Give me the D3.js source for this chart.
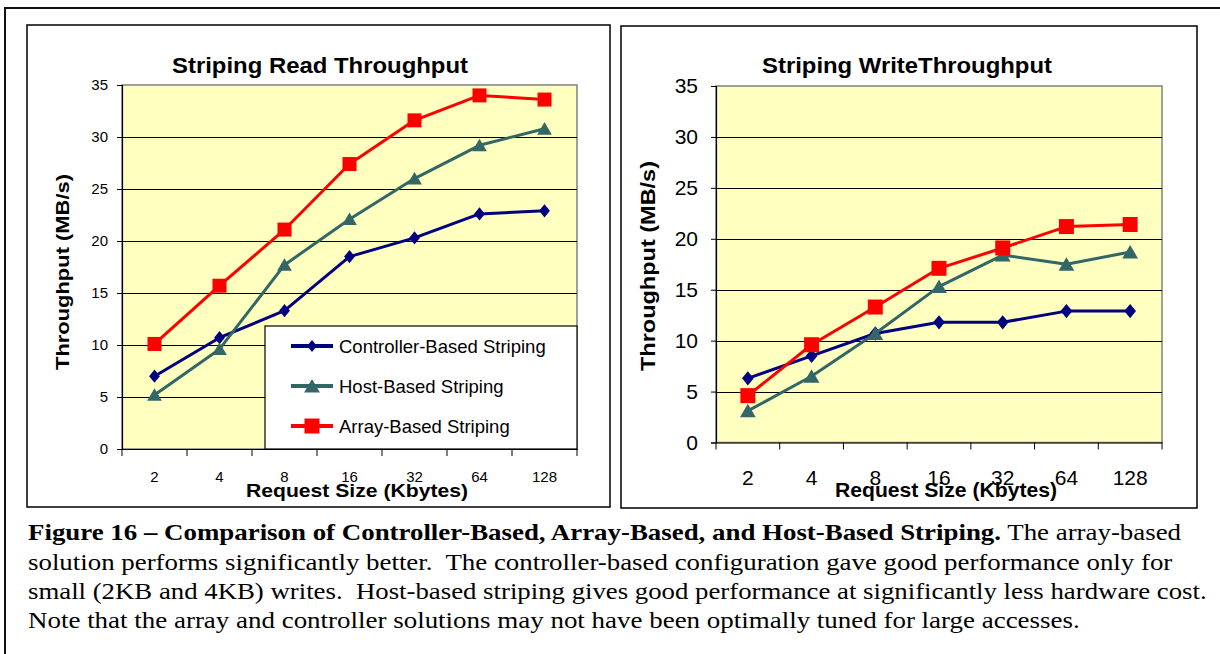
<!DOCTYPE html>
<html>
<head>
<meta charset="utf-8">
<script src="https://cdn.jsdelivr.net/npm/d3@7"></script>
<style>
  html, body { margin: 0; padding: 0; background: #fff; }
  svg { display: block; }
  .caption text { font-family: "Liberation Serif", "Times New Roman", Tinos, "Nimbus Roman", "Nimbus Roman No9 L", FreeSerif, serif; }
</style>
</head>
<body>
<svg id="fig" width="1220" height="654"></svg>
<script>
// Request sizes (Kbytes) shared by both charts
const sizes = ["2", "4", "8", "16", "32", "64", "128"];

// Read throughput (MB/s)
const readController = [7.0, 10.7, 13.3, 18.5, 20.3, 22.6, 22.9];
const readHost       = [5.2, 9.6, 17.7, 22.1, 26.0, 29.2, 30.8];
const readArray      = [10.1, 15.7, 21.1, 27.4, 31.6, 34.0, 33.6];

// Write throughput (MB/s)
const writeController = [6.3, 8.5, 10.7, 11.8, 11.8, 12.9, 12.9];
const writeHost       = [3.1, 6.5, 10.7, 15.3, 18.4, 17.5, 18.7];
const writeArray      = [4.6, 9.6, 13.3, 17.1, 19.1, 21.2, 21.4];

const yTicks = [0, 5, 10, 15, 20, 25, 30, 35];
const seriesNames = ["Controller-Based Striping", "Host-Based Striping", "Array-Based Striping"];

const captionBold = "Figure 16 \u2013 Comparison of Controller-Based, Array-Based, and Host-Based Striping.";
const captionLines = [
  " The array-based",
  "solution performs significantly better.  The controller-based configuration gave good performance only for",
  "small (2KB and 4KB) writes.  Host-based striping gives good performance at significantly less hardware cost.",
  "Note that the array and controller solutions may not have been optimally tuned for large accesses."
];

const svg = d3.select("#fig");
const SANS = "'Liberation Sans', Arial, sans-serif";

// Marker shapes, centred on their bounding box
function markerPath(shape, s) {
  const h = s / 2;
  const p = d3.path();
  if (shape === "diamond") {
    p.moveTo(0, -h * 1.1); p.lineTo(h * 0.9, 0); p.lineTo(0, h * 1.1); p.lineTo(-h * 0.9, 0); p.closePath();
  } else if (shape === "triangle") {
    p.moveTo(0, -h * 0.95); p.lineTo(h * 1.05, h * 0.85); p.lineTo(-h * 1.05, h * 0.85); p.closePath();
  } else {
    p.rect(-h, -h, s, s);
  }
  return p.toString();
}

const styles = [
  { color: "#000080", shape: "diamond",  lw: 3 },
  { color: "#336666", shape: "triangle", lw: 3 },
  { color: "#FF0000", shape: "square",   lw: 3 }
];

// Outer figure frame
svg.append("path")
  .attr("d", "M5,660 L5,8 L1230,8")
  .attr("fill", "none").attr("stroke", "#111").attr("stroke-width", 2);

function drawChart(cfg) {
  const g = svg.append("g");

  // chart box
  g.append("rect")
    .attr("x", cfg.box[0]).attr("y", cfg.box[1])
    .attr("width", cfg.box[2] - cfg.box[0]).attr("height", cfg.box[3] - cfg.box[1])
    .attr("fill", "#fff").attr("stroke", "#000").attr("stroke-width", 1.5);

  const x = d3.scaleBand().domain(sizes).range([cfg.plot[0], cfg.plot[2]]).paddingInner(0).paddingOuter(0);
  const y = d3.scaleLinear().domain([0, 35]).range([cfg.plot[3], cfg.plot[1]]);

  // plot area
  g.append("rect")
    .attr("x", cfg.plot[0]).attr("y", cfg.plot[1])
    .attr("width", cfg.plot[2] - cfg.plot[0]).attr("height", cfg.plot[3] - cfg.plot[1])
    .attr("fill", "#FFFFC0").attr("stroke", "#808080").attr("stroke-width", 1.5);

  // horizontal gridlines
  g.append("g").selectAll("line").data(yTicks.filter(d => d > 0 && d < 35)).join("line")
    .attr("x1", cfg.plot[0]).attr("x2", cfg.plot[2])
    .attr("y1", d => Math.round(y(d)) + 0.5).attr("y2", d => Math.round(y(d)) + 0.5)
    .attr("stroke", "#000").attr("stroke-width", 1);

  // y axis
  const yAxis = g.append("g")
    .attr("transform", `translate(${cfg.plot[0]},0)`)
    .call(d3.axisLeft(y).tickValues(yTicks).tickSize(5).tickPadding(cfg.yPad));
  yAxis.select(".domain").attr("stroke", "#000").attr("stroke-width", 1.2);
  yAxis.selectAll(".tick line").attr("stroke", "#000");
  yAxis.selectAll("text").attr("font-family", SANS).attr("font-size", cfg.tickFont).attr("fill", "#000");

  // x axis, ticks on category boundaries
  const xAxis = g.append("g")
    .attr("transform", `translate(0,${cfg.plot[3]})`)
    .call(d3.axisBottom(x).tickSize(0).tickPadding(cfg.xPad));
  xAxis.select(".domain").attr("stroke", "#000").attr("stroke-width", 1.2);
  xAxis.selectAll("text").attr("font-family", SANS).attr("font-size", cfg.tickFont).attr("fill", "#000");
  const bounds = sizes.map(s => x(s)).concat([x(sizes[sizes.length - 1]) + x.bandwidth()]);
  g.append("g").selectAll("line").data(bounds).join("line")
    .attr("x1", d => d).attr("x2", d => d)
    .attr("y1", cfg.plot[3]).attr("y2", cfg.plot[3] + 7)
    .attr("stroke", "#000").attr("stroke-width", 1);

  // series
  const line = d3.line().x((d, i) => x(sizes[i]) + x.bandwidth() / 2).y(d => y(d));
  cfg.series.forEach((vals, k) => {
    const st = styles[k];
    g.append("path").datum(vals).attr("d", line)
      .attr("fill", "none").attr("stroke", st.color).attr("stroke-width", st.lw)
      .attr("stroke-linejoin", "round");
    g.append("g").selectAll("path").data(vals).join("path")
      .attr("transform", (d, i) => `translate(${x(sizes[i]) + x.bandwidth() / 2},${y(d)})`)
      .attr("d", markerPath(st.shape, cfg.marker[k]))
      .attr("fill", st.color);
  });

  // title
  g.append("text")
    .attr("x", cfg.title[1]).attr("y", cfg.title[2])
    .attr("text-anchor", "middle")
    .attr("font-family", SANS).attr("font-weight", "bold").attr("font-size", cfg.titleFont)
    .attr("textLength", cfg.title[3]).attr("lengthAdjust", "spacingAndGlyphs")
    .text(cfg.title[0]);

  // axis titles
  g.append("text")
    .attr("transform", `translate(${cfg.yTitle[0]},${cfg.yTitle[1]}) rotate(-90)`)
    .attr("text-anchor", "middle").attr("dominant-baseline", "central")
    .attr("font-family", SANS).attr("font-weight", "bold").attr("font-size", cfg.axisFont)
    .attr("textLength", cfg.yTitle[2]).attr("lengthAdjust", "spacingAndGlyphs")
    .text("Throughput (MB/s)");
  g.append("text")
    .attr("x", cfg.xTitle[0]).attr("y", cfg.xTitle[1])
    .attr("text-anchor", "middle")
    .attr("font-family", SANS).attr("font-weight", "bold").attr("font-size", cfg.axisFont)
    .attr("textLength", cfg.xTitle[2]).attr("lengthAdjust", "spacingAndGlyphs")
    .text("Request Size (Kbytes)");

  return { g, x, y };
}

const left = drawChart({
  box: [27, 25, 610, 507],
  plot: [122, 85, 577, 449],
  series: [readController, readHost, readArray],
  marker: [12, 14, 14],
  tickFont: 15, xPad: 22, yPad: 9,
  title: ["Striping Read Throughput", 320, 73, 296], titleFont: 22,
  yTitle: [62, 272, 196], xTitle: [357, 497, 222], axisFont: 19
});

const right = drawChart({
  box: [621, 26, 1197, 508],
  plot: [716, 86, 1162, 442.5],
  series: [writeController, writeHost, writeArray],
  marker: [13, 15, 15],
  tickFont: 21, xPad: 28, yPad: 13,
  title: ["Striping WriteThroughput", 907, 73, 290], titleFont: 22,
  yTitle: [648, 266, 210], xTitle: [946, 497, 222], axisFont: 20
});

// legend inside the read chart
const lg = left.g.append("g");
lg.append("rect").attr("x", 265).attr("y", 326).attr("width", 312).attr("height", 123)
  .attr("fill", "#fff").attr("stroke", "#000").attr("stroke-width", 1.2);
const legendY = d3.scalePoint().domain(seriesNames).range([346, 426]);
seriesNames.forEach((name, k) => {
  const st = styles[k];
  const yy = legendY(name);
  lg.append("line").attr("x1", 291).attr("x2", 333).attr("y1", yy).attr("y2", yy)
    .attr("stroke", st.color).attr("stroke-width", 4);
  lg.append("path").attr("transform", `translate(312,${yy})`)
    .attr("d", markerPath(st.shape, k === 0 ? 11 : 15)).attr("fill", st.color);
  lg.append("text").attr("x", 339).attr("y", yy).attr("dominant-baseline", "central")
    .attr("font-family", SANS).attr("font-size", 18.5).attr("fill", "#000")
    .text(name);
});

// figure caption: each line is fitted to its measured span
const cap = svg.append("g").attr("class", "caption").attr("font-size", 24).attr("fill", "#000");
const capStart = 28;
const baselines = [540, 570, 599, 628];
const lineEnds = [1182, 1173, 1207, 1080];
const capTexts = [];
const t0 = cap.append("text").attr("x", 0).attr("y", 0).style("white-space", "pre");
t0.append("tspan").attr("font-weight", "bold").text(captionBold);
t0.append("tspan").text(captionLines[0]);
capTexts.push(t0);
captionLines.slice(1).forEach(s => {
  capTexts.push(cap.append("text").attr("x", 0).attr("y", 0).style("white-space", "pre").text(s));
});
capTexts.forEach((t, i) => {
  const w = t.node().getComputedTextLength();
  const sx = (lineEnds[i] - capStart) / w;
  t.attr("transform", `translate(${capStart},${baselines[i]}) scale(${sx},1)`);
});
</script>
</body>
</html>
